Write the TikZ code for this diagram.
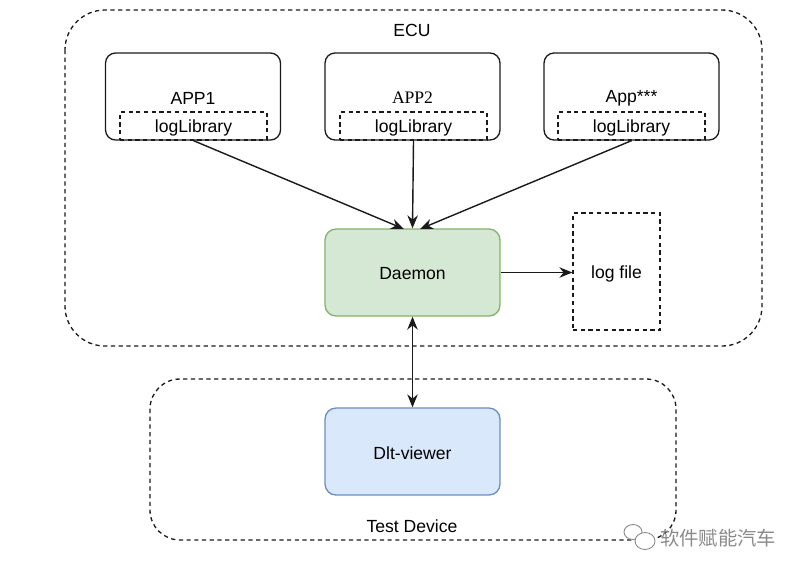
\documentclass[tikz,border=0pt]{standalone}
\usepackage{fontspec}
\setmainfont{Liberation Sans}
\newfontfamily\appserif{Liberation Serif}
\newfontfamily\cjk{Noto Sans CJK SC}
\usepackage{xcolor}
\usetikzlibrary{arrows.meta,positioning,shapes.geometric}
\definecolor{DaemonFill}{HTML}{D5E8D4}
\definecolor{DaemonLine}{HTML}{82B366}
\definecolor{ViewerFill}{HTML}{DAE8FC}
\definecolor{ViewerLine}{HTML}{6C8EBF}
\definecolor{MarkGray}{HTML}{8A8A8A}
\definecolor{LineGray}{HTML}{1A1A1A}
\tikzset{
  appbox/.style={draw=LineGray, rounded corners=0.2cm, minimum width=3.5cm, minimum height=1.74cm, line width=0.75pt},
  libbox/.style={draw=LineGray, dash pattern=on 2.4pt off 2pt, minimum width=2.94cm, minimum height=0.56cm, inner sep=0pt, line width=0.75pt},
  procbox/.style={rounded corners=0.22cm, minimum width=3.5cm, minimum height=1.74cm, line width=0.75pt},
  areabox/.style={draw=LineGray, dash pattern=on 2.4pt off 2pt, line width=0.75pt},
  link/.style={draw=LineGray, -{Stealth[length=2.6mm,width=2.1mm]}, line width=0.8pt},
}

\begin{document}
\begin{tikzpicture}[x=0.02cm, y=-0.02cm, every node/.style={font=\fontsize{10}{12}\selectfont}]
      \useasboundingbox (0,0) rectangle (800,572);

      % areas
      \draw[areabox, rounded corners=0.8cm] (65,10) rectangle (762,346);
      \node (ecu) at (412,30) {ECU};
      \draw[areabox, rounded corners=0.6cm] (150,379) rectangle (676,540);
      \node (testdev) at (412,526) {Test Device};

      % applications
      \node[appbox] (app1) at (193,96.5) {};
      \node[appbox] (app2) at (412.5,96.5) {};
      \node[appbox] (app3) at (631.5,96.5) {};
      \node (app1t) at (193,98) {APP1};
      \node (app2t) at (412.5,98) {\appserif APP2};
      \node (app3t) at (631.5,98) {App***};
      \node[libbox] (lib1) at (193.5,126) {};
      \node[libbox] (lib2) at (413.5,126) {};
      \node[libbox] (lib3) at (631.5,126) {};
      \node (lib1t) at (193.5,128) {logLibrary};
      \node (lib2t) at (413.5,128) {logLibrary};
      \node (lib3t) at (631.5,128) {logLibrary};

      % daemon, file, viewer
      \node[procbox, draw=DaemonLine, fill=DaemonFill] (daemon) at (412.5,272.5) {};
      \node (daemont) at (412.5,274) {Daemon};
      \node[areabox, minimum width=1.74cm, minimum height=2.34cm] (logfile) at (616.5,271.5) {};
      \node (logfilet) at (616.5,274) {log file};
      \node[procbox, draw=ViewerLine, fill=ViewerFill] (viewer) at (412.5,451.5) {};
      \node (viewert) at (412.5,453) {Dlt-viewer};

      \coordinate (in1) at (404,229);
      \coordinate (in3) at (420,229);
      \draw[link] (lib1.south) -- (in1);
      \draw[link] (lib2.south) -- (daemon.north);
      \draw[link] (lib3.south) -- (in3);
      \draw[link] (daemon.east) -- (daemon.east -| logfile.west);
      \draw[link, {Stealth[length=2.6mm,width=2.1mm]}-{Stealth[length=2.6mm,width=2.1mm]}] (daemon.south) -- (viewer.north);

      % watermark
      \node[draw=MarkGray, fill=white, ellipse, minimum width=0.36cm, minimum height=0.3cm, inner sep=0pt, line width=0.5pt] (mark1) at (633,532) {};
      \node[draw=MarkGray, fill=white, ellipse, minimum width=0.4cm, minimum height=0.34cm, inner sep=0pt, line width=0.5pt] (mark2) at (645,541) {};
      \node[anchor=west, text=MarkGray, font=\cjk\fontsize{11}{13}\selectfont] (marktext) at (654,538) {软件赋能汽车};
    \end{tikzpicture}
\end{document}
